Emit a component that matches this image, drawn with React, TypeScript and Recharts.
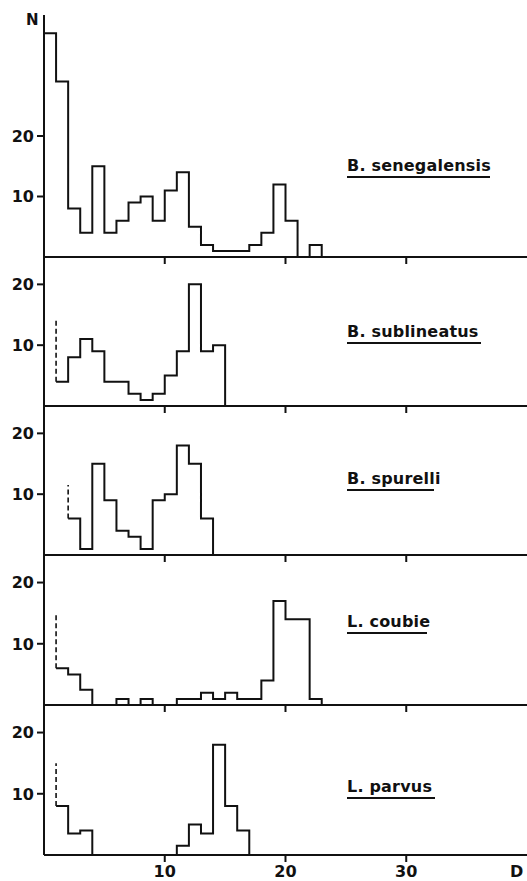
import { LineChart, Line, XAxis, YAxis } from 'recharts';

const xTicks = [10, 20, 30];
const yTicks = [10, 20];

const speciesNames = ['B. senegalensis', 'B. sublineatus', 'B. spurelli', 'L. coubie', 'L. parvus'];

// D value where each histogram starts (bins are 1 unit wide)
const binStarts = [0, 1, 2, 1, 1];

const senegalensis = [37, 29, 8, 4, 15, 4, 6, 9, 10, 6, 11, 14, 5, 2, 1, 1, 1, 2, 4, 12, 6, 0, 2];
const sublineatus = [4, 8, 11, 9, 4, 4, 2, 1, 2, 5, 9, 20, 9, 10];
const spurelli = [6, 1, 15, 9, 4, 3, 1, 9, 10, 18, 15, 6];
const coubie = [6, 5, 2.5, 0, 0, 1, 0, 1, 0, 0, 1, 1, 2, 1, 2, 1, 1, 4, 17, 14, 14, 1];
const parvus = [8, 3.5, 4, 0, 0, 0, 0, 0, 0, 0, 1.5, 5, 3.5, 18, 8, 4];

// top of the dashed line drawn above the first bin
const dashTops = [null, 14, 11.5, 15, 15];

const counts = [senegalensis, sublineatus, spurelli, coubie, parvus];

const FONT = '"DejaVu Sans", sans-serif';
const INK = '#111';
const TICK = 7;
const GAP = 3;

// plot area of each panel (page px) and its N range
const panelTops = [15, 257, 406, 555, 705];
const panelBottoms = [257, 406, 555, 705, 855];
const panelMax = [40, 24.5, 24.5, 24.5, 24.5];

// label baselines and underline right ends
const labelBase = [171, 337, 484, 627, 792];
const underlineEnd = [490, 481, 434, 427, 435];

function stepPoints(start: number, values: number[]) {
  const pts = values.map((n, i) => ({ x: start + i, n }));
  pts.push({ x: start + values.length, n: 0 });
  return pts;
}

// tick mark drawn by hand together with its label
function XTick(props: any, showLabel: boolean) {
  const { x, y, payload } = props;
  const axisY = y - TICK - GAP;
  return (
    <g>
      <line x1={x} x2={x} y1={axisY} y2={axisY + TICK} stroke={INK} strokeWidth={2} />
      {showLabel && (
        <text x={x} y={axisY + TICK + GAP} dy="0.75em" textAnchor="middle" fontFamily={FONT} fontWeight="bold" fontSize={16} fill={INK}>
          {payload.value}
        </text>
      )}
    </g>
  );
}

function YTick(props: any) {
  const { x, y, payload } = props;
  const axisX = x + TICK + GAP;
  return (
    <g>
      <line x1={axisX - TICK} x2={axisX} y1={y} y2={y} stroke={INK} strokeWidth={2} />
      <text x={axisX - TICK - GAP} y={y} dy="0.36em" textAnchor="end" fontFamily={FONT} fontWeight="bold" fontSize={16} fill={INK}>
        {payload.value}
      </text>
    </g>
  );
}

function Panel({ idx }: { idx: number }) {
  const last = idx === counts.length - 1;
  const xAxisH = last ? 26 : 12;
  const plotH = panelBottoms[idx] - panelTops[idx];
  const start = binStarts[idx];
  const hist = stepPoints(start, counts[idx]);
  const dashTop = dashTops[idx];
  const dash = dashTop == null ? null : [
    { x: start, n: counts[idx][0] },
    { x: start, n: dashTop },
  ];

  return (
    <div style={{ position: 'absolute', left: 0, top: panelTops[idx], width: 527, height: plotH + xAxisH }}>
      <LineChart width={527} height={plotH + xAxisH} margin={{ top: 0, right: 0, bottom: 0, left: 0 }}>
        <XAxis
          type="number"
          dataKey="x"
          domain={[0, 40]}
          ticks={xTicks}
          height={xAxisH}
          stroke={INK}
          strokeWidth={2}
          tickLine={false}
          tickSize={TICK}
          tickMargin={GAP}
          tick={(p: any) => XTick(p, last)}
          interval={0}
        />
        <YAxis
          type="number"
          dataKey="n"
          domain={[0, panelMax[idx]]}
          ticks={yTicks}
          width={44}
          stroke={INK}
          strokeWidth={2}
          tickLine={false}
          tickSize={TICK}
          tickMargin={GAP}
          tick={YTick}
          interval={0}
          allowDataOverflow
        />
        <Line
          data={hist}
          dataKey="n"
          type="stepAfter"
          stroke={INK}
          strokeWidth={2}
          dot={false}
          isAnimationActive={false}
        />
        {dash && (
          <Line
            data={dash}
            dataKey="n"
            type="linear"
            stroke={INK}
            strokeWidth={1.6}
            strokeDasharray="5 3"
            dot={false}
            isAnimationActive={false}
          />
        )}
      </LineChart>
    </div>
  );
}

export default function App() {
  return (
    <div style={{ position: 'absolute', left: 0, top: 0, width: 527, height: 881, background: '#fff', overflow: 'hidden' }}>
      {counts.map((_, i) => (
        <Panel key={i} idx={i} />
      ))}
      <svg width={527} height={881} style={{ position: 'absolute', left: 0, top: 0, pointerEvents: 'none' }}>
        <text x={26} y={25} fontFamily={FONT} fontWeight="bold" fontSize={15} fill={INK}>N</text>
        <text x={510} y={877} fontFamily={FONT} fontWeight="bold" fontSize={16} fill={INK}>D</text>
        {speciesNames.map((name, i) => (
          <g key={name}>
            <text x={347} y={labelBase[i]} fontFamily={FONT} fontWeight="bold" fontSize={16} letterSpacing={0.2} fill={INK}>
              {name}
            </text>
            <line
              x1={347}
              x2={underlineEnd[i]}
              y1={labelBase[i] + 6}
              y2={labelBase[i] + 6}
              stroke={INK}
              strokeWidth={2}
            />
          </g>
        ))}
      </svg>
    </div>
  );
}
